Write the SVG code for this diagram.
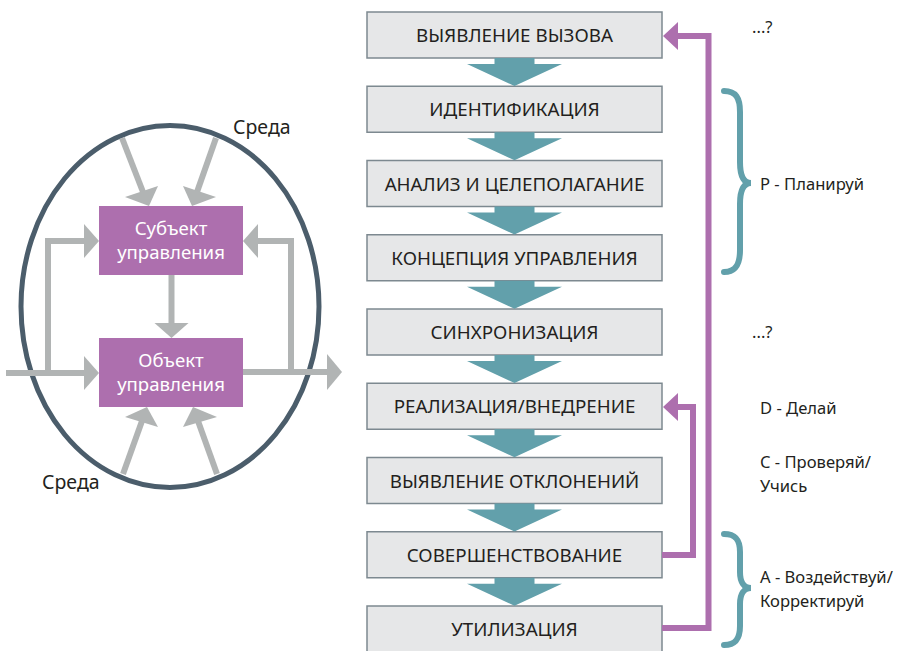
<svg xmlns="http://www.w3.org/2000/svg" width="897" height="651" viewBox="0 0 897 651">
<style>
.box{fill:#e6e7e8;stroke:#7d8990;stroke-width:1.5}
.bt{font-family:"Noto Sans","Open Sans",sans-serif;font-size:18.8px;fill:#231f20;text-anchor:middle}
.pb{fill:#ad6fae}
.pt{font-family:"Noto Sans","Open Sans",sans-serif;font-size:18.6px;fill:#ffffff;text-anchor:middle}
.lbl{font-family:"Noto Sans","Open Sans",sans-serif;font-size:16.6px;fill:#231f20}
.sr{font-family:"Noto Sans","Open Sans",sans-serif;font-size:19.5px;fill:#231f20}
.g{stroke:#b1b4b4;stroke-width:6;fill:none}
.gh{fill:#b1b4b4}
.teal{fill:#62a0ab}
.pl{stroke:#ad6fae;stroke-width:6;fill:none}
.ph{fill:#ad6fae}
.br{stroke:#62a0ab;stroke-width:6;fill:none;stroke-linecap:round}
</style>

<!-- Left system diagram -->
<g id="environment">
<ellipse cx="170" cy="306.5" rx="149" ry="181" fill="none" stroke="#4b5d6b" stroke-width="5"/>
<text class="sr" x="233" y="134">Среда</text>
<text class="sr" x="42" y="489">Среда</text>
</g>

<g id="subject">
<rect class="pb" x="99" y="206" width="144" height="69"/>
<text class="pt" x="171" y="235">Субъект</text>
<text class="pt" x="171" y="259">управления</text>
</g>

<g id="object">
<rect class="pb" x="99" y="338" width="144" height="69"/>
<text class="pt" x="171" y="367">Объект</text>
<text class="pt" x="171" y="391">управления</text>
</g>

<g id="left-connectors">
<!-- top diagonals -->
<line class="g" x1="122" y1="138" x2="143" y2="192"/>
<polygon class="gh" points="149,206 125,197 158,186"/>
<line class="g" x1="216" y1="138" x2="197" y2="192"/>
<polygon class="gh" points="192,206 183,186 216,197"/>
<!-- bottom diagonals -->
<line class="g" x1="123" y1="474" x2="142" y2="421"/>
<polygon class="gh" points="147,407 158,427 125,417"/>
<line class="g" x1="217" y1="474" x2="198" y2="421"/>
<polygon class="gh" points="193,407 217,417 183,427"/>
<!-- subject to object -->
<line class="g" x1="171.5" y1="275" x2="171.5" y2="324"/>
<polygon class="gh" points="171.5,338 154.5,323 188.5,323"/>
<!-- input -->
<line class="g" x1="6" y1="373" x2="85" y2="373"/>
<polygon class="gh" points="99,373 84,356 84,390"/>
<polyline class="g" points="48,373 48,241 85,241"/>
<polygon class="gh" points="99,241 84,224 84,258"/>
<!-- output -->
<line class="g" x1="243" y1="372" x2="328" y2="372"/>
<polygon class="gh" points="342,372 327,354 327,390"/>
<polyline class="g" points="291,372 291,241 257,241"/>
<polygon class="gh" points="243,241 258,224 258,258"/>
</g>

<!-- Process boxes -->
<g id="n1"><rect class="box" x="367" y="12" width="295" height="46"/><text class="bt" x="514.5" y="42">ВЫЯВЛЕНИЕ ВЫЗОВА</text></g>
<g id="n2"><rect class="box" x="367" y="86.25" width="295" height="46"/><text class="bt" x="514.5" y="116.25">ИДЕНТИФИКАЦИЯ</text></g>
<g id="n3"><rect class="box" x="367" y="160.5" width="295" height="46"/><text class="bt" x="514.5" y="190.5">АНАЛИЗ И ЦЕЛЕПОЛАГАНИЕ</text></g>
<g id="n4"><rect class="box" x="367" y="234.75" width="295" height="46"/><text class="bt" x="514.5" y="264.75">КОНЦЕПЦИЯ УПРАВЛЕНИЯ</text></g>
<g id="n5"><rect class="box" x="367" y="309" width="295" height="46"/><text class="bt" x="514.5" y="339">СИНХРОНИЗАЦИЯ</text></g>
<g id="n6"><rect class="box" x="367" y="383.25" width="295" height="46"/><text class="bt" x="514.5" y="413.25">РЕАЛИЗАЦИЯ/ВНЕДРЕНИЕ</text></g>
<g id="n7"><rect class="box" x="367" y="457.5" width="295" height="46"/><text class="bt" x="514.5" y="487.5">ВЫЯВЛЕНИЕ ОТКЛОНЕНИЙ</text></g>
<g id="n8"><rect class="box" x="367" y="531.75" width="295" height="46"/><text class="bt" x="514.5" y="561.75">СОВЕРШЕНСТВОВАНИЕ</text></g>
<g id="n9"><rect class="box" x="367" y="606" width="295" height="46"/><text class="bt" x="514.5" y="636">УТИЛИЗАЦИЯ</text></g>

<g id="connectors">
<defs>
<path id="ta" d="M-20,0 H20 V6 H47.5 L0,28 L-47.5,6 H-20 Z"/>
</defs>
<use href="#ta" class="teal" x="514.5" y="58"/>
<use href="#ta" class="teal" x="514.5" y="132.25"/>
<use href="#ta" class="teal" x="514.5" y="206.5"/>
<use href="#ta" class="teal" x="514.5" y="280.75"/>
<use href="#ta" class="teal" x="514.5" y="355"/>
<use href="#ta" class="teal" x="514.5" y="429.25"/>
<use href="#ta" class="teal" x="514.5" y="503.5"/>
<use href="#ta" class="teal" x="514.5" y="577.75"/>
<!-- feedback loops -->
<polyline class="pl" points="662,628 708.5,628 708.5,36 676,36"/>
<polygon class="ph" points="663,36 678,22 678,50"/>
<polyline class="pl" points="662,555 693,555 693,407 676,407"/>
<polygon class="ph" points="663,407 678,393 678,421"/>
</g>

<!-- braces -->
<g id="brace-p">
<path class="br" d="M724,91 C736,91 740,98 740,112 V162 C740,176 744,183 751,183 C744,183 740,190 740,204 V250 C740,264 736,272 724,272"/>
</g>
<g id="brace-a">
<path class="br" d="M724,534 C736,534 740,540 740,552 V572 C740,582 744,588 751,588 C744,588 740,594 740,604 V626 C740,638 736,645 724,645"/>
</g>

<g id="labels">
<text class="lbl" x="752" y="33">...?</text>
<text class="lbl" x="760" y="190">P - Планируй</text>
<text class="lbl" x="752" y="338">...?</text>
<text class="lbl" x="760" y="414">D - Делай</text>
<text class="lbl" x="760" y="468">C - Проверяй/</text>
<text class="lbl" x="760" y="492">Учись</text>
<text class="lbl" x="760" y="583">A - Воздействуй/</text>
<text class="lbl" x="760" y="607">Корректируй</text>
</g>
</svg>
